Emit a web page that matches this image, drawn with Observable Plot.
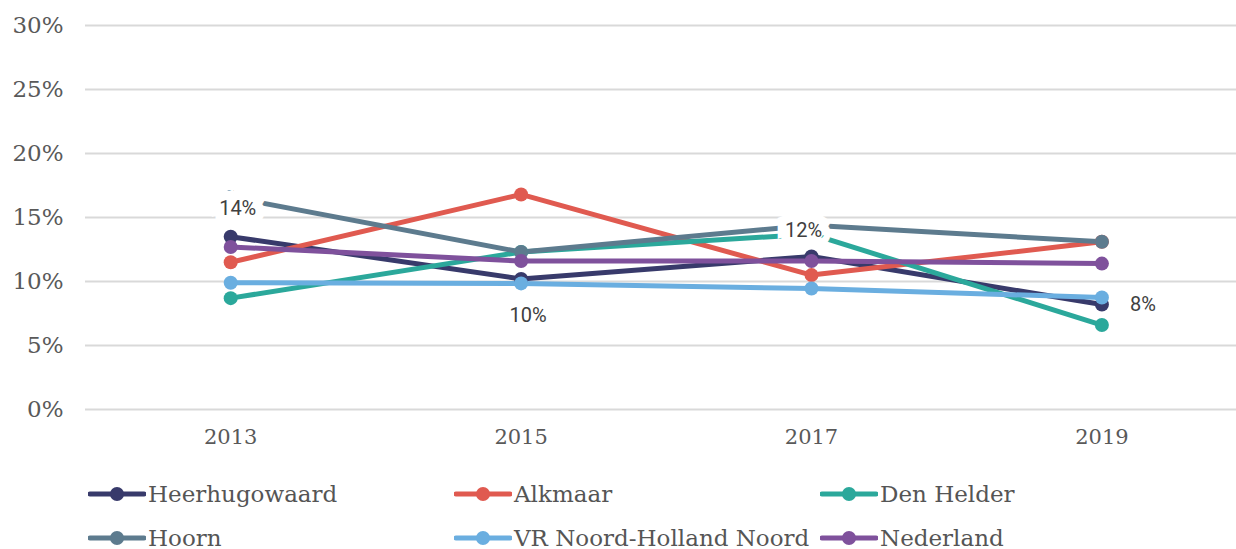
<!DOCTYPE html>
<html>
<head>
<meta charset="utf-8">
<script src="https://cdn.jsdelivr.net/npm/d3@7"></script>
<script src="https://cdn.jsdelivr.net/npm/@observablehq/plot@0.6"></script>
<style>
  html, body { margin: 0; padding: 0; background: #fff; overflow: hidden; }
  #chart svg { display: block; }
  .legend { display: grid; grid-template-columns: 366px 366px 366px; padding-left: 88px; margin-top: 2px;
            font-family: "DejaVu Serif", "Liberation Serif", serif; font-size: 23px; line-height: 1; color: #555; }
  .item { display: flex; align-items: center; height: 44px; white-space: nowrap; }
  .item svg { margin-right: 2px; }
</style>
</head>
<body>
<div id="chart"></div>
<div class="legend" id="legend"></div>
<script>
const years = [2013, 2015, 2017, 2019];
const seriesNames = ["Heerhugowaard", "Alkmaar", "Den Helder", "Hoorn", "VR Noord-Holland Noord", "Nederland"];
const seriesColors = ["#383a6b", "#e05a50", "#2ba89b", "#5d7b8e", "#6aaee0", "#7f519c"];
const heerhugowaard = [13.5, 10.2, 11.95, 8.2];
const alkmaar = [11.5, 16.8, 10.5, 13.1];
const denHelder = [8.7, 12.3, 13.7, 6.6];
const hoorn = [16.6, 12.3, 14.4, 13.1];
const vrNHN = [9.9, 9.85, 9.45, 8.75];
const nederland = [12.7, 11.6, 11.6, 11.4];
const labelTexts = ["14%", "10%", "12%", "8%"];
const labelYears = [2013, 2015, 2017, 2019];
const labelValues = [15.7, 7.35, 14.0, 8.2];

const allValues = [heerhugowaard, alkmaar, denHelder, hoorn, vrNHN, nederland];
const data = [];
seriesNames.forEach((s, i) => years.forEach((y, j) => data.push({series: s, year: y, value: allValues[i][j]})));
const labels = labelTexts.map((t, i) => ({text: t, year: labelYears[i], value: labelValues[i]}));
const labelDx = [7, 7, -8, 41];

const chart = Plot.plot({
  width: 1236,
  height: 470,
  marginLeft: 85,
  marginRight: 0,
  marginTop: 25,
  marginBottom: 61,
  style: {fontFamily: "DejaVu Serif, Liberation Serif, serif", fontSize: "21px", color: "#595959", background: "#fff"},
  x: {domain: [2012, 2019.927], ticks: years, tickFormat: d => String(d), tickSize: 0, tickPadding: 20, label: null},
  y: {domain: [0, 30], ticks: [0, 5, 10, 15, 20, 25, 30], tickFormat: d => d + "%", tickSize: 0, tickPadding: 22, label: null},
  color: {domain: seriesNames, range: seriesColors},
  marks: [
    Plot.gridY([0, 5, 10, 15, 20, 25, 30], {stroke: "#d9d9d9", strokeOpacity: 1, strokeWidth: 2}),
    Plot.axisY({ticks: [0, 5, 10, 15, 20, 25, 30], tickFormat: d => d + "%", tickSize: 0, tickPadding: 22, fill: "#595959", fontSize: 23}),
    Plot.axisX({ticks: years, tickFormat: d => String(d), tickSize: 0, tickPadding: 20, fill: "#595959", fontSize: 21}),
    ...seriesNames.map(s => Plot.line(data.filter(d => d.series === s), {x: "year", y: "value", stroke: "series", strokeWidth: 5})),
    ...seriesNames.map(s => Plot.dot(data.filter(d => d.series === s), {x: "year", y: "value", fill: "series", r: 7})),
    Plot.text(labels, {x: "year", y: "value", text: "text",
      fontFamily: "Roboto, Noto Sans, sans-serif", fontSize: 20, fill: "#404040",
      stroke: (d, i) => (i === 0 || i === 2) ? "white" : "none", strokeWidth: 18, strokeLinejoin: "miter"})
  ]
});
chart.querySelectorAll("g[aria-label='text'] text").forEach((t, i) => {
  t.setAttribute("transform", (t.getAttribute("transform") || "") + ` translate(${labelDx[i]},0)`);
});
document.getElementById("chart").appendChild(chart);

const legend = document.getElementById("legend");
seriesNames.forEach((name, i) => {
  const item = document.createElement("div");
  item.className = "item";
  item.innerHTML = `<svg width="58" height="20"><line x1="2" x2="56" y1="10" y2="10" stroke="${seriesColors[i]}" stroke-width="5" stroke-linecap="round"/><circle cx="29" cy="10" r="7" fill="${seriesColors[i]}"/></svg><span>${name}</span>`;
  legend.appendChild(item);
});
</script>
</body>
</html>
